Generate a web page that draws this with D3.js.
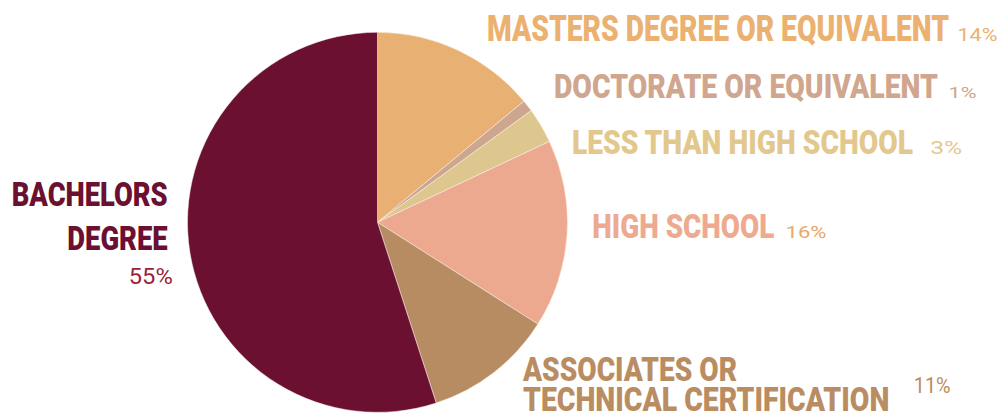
<!DOCTYPE html>
<html>
<head>
<meta charset="utf-8">
<script src="https://cdn.jsdelivr.net/npm/d3@7"></script>
<style>
  html, body { margin: 0; padding: 0; background: #ffffff; }
  svg { display: block; }
</style>
</head>
<body>
<svg id="chart" width="1004" height="417"></svg>
<script>
// ---- data ----
const categories = ["Masters degree or equivalent", "Doctorate or equivalent", "Less than high school", "High school", "Associates or technical certification", "Bachelors degree"];
const values = [14, 1, 3, 16, 11, 55];
const labelLines = [
  ["MASTERS DEGREE OR EQUIVALENT"],
  ["DOCTORATE OR EQUIVALENT"],
  ["LESS THAN HIGH SCHOOL"],
  ["HIGH SCHOOL"],
  ["ASSOCIATES OR", "TECHNICAL CERTIFICATION"],
  ["BACHELORS", "DEGREE"]
];
const percentLabels = values.map(v => v + "%");

// ---- styles / layout ----
const sliceColors = ["#E8B072", "#CDA690", "#DEC68F", "#EDA98F", "#B88C63", "#6B1030"];
const labelColors = ["#EBB171", "#D0A68E", "#E2C88D", "#EEAA90", "#BA8C62", "#6B1030"];
const pctColors   = ["#EBB171", "#D0A68E", "#E2C88D", "#EBA76A", "#BA8C62", "#9B2335"];

// label layout: lines [x, baseline, inkWidth], font size; percent [x, baseline, width, size]
const layout = [
  { size: 36.5, lines: [[488, 41, 460]], pct: [958, 41, 39, 18.3] },
  { size: 33.5, lines: [[555, 97.7, 382]], pct: [949, 97.7, 27, 15.5] },
  { size: 33.8, lines: [[573, 154.3, 339]], pct: [930.7, 154.2, 31, 18.3] },
  { size: 33.8, lines: [[593.3, 238.3, 180]], pct: [786, 238.3, 40, 16.3] },
  { size: 33.8, lines: [[524, 380.7, 212], [524, 410.7, 364.3]], pct: [914.3, 393.3, 35.7, 21.5] },
  { size: 32.5, lines: [[12.7, 205.7, 154], [68.3, 250, 98.4]], pct: [129.3, 284.3, 43, 21.5] }
];

const cx = 377.5, cy = 222.3, radius = 190;

const svg = d3.select("#chart");
const g = svg.append("g").attr("transform", `translate(${cx},${cy})`);

const pie = d3.pie().sort(null).value(d => d).startAngle(0).endAngle(2 * Math.PI);
const arc = d3.arc().innerRadius(0).outerRadius(radius);

g.selectAll("path.slice")
  .data(pie(values))
  .join("path")
  .attr("class", "slice")
  .attr("d", arc)
  .attr("fill", (d, i) => sliceColors[i])
  .attr("stroke", "#fbf3ea")
  .attr("stroke-width", 0.5);

const labels = svg.append("g");
layout.forEach((L, i) => {
  L.lines.forEach((ln, j) => {
    labels.append("text")
      .attr("x", ln[0] - 1)
      .attr("y", ln[1])
      .attr("font-family", "Roboto, 'Liberation Sans', sans-serif")
      .attr("font-weight", 900)
      .attr("font-size", L.size)
      .attr("fill", labelColors[i])
      .attr("textLength", ln[2] + 2)
      .attr("lengthAdjust", "spacingAndGlyphs")
      .text(labelLines[i][j]);
  });
  const p = L.pct;
  labels.append("text")
    .attr("x", p[0] - 0.5)
    .attr("y", p[1])
    .attr("font-family", "Roboto, 'Liberation Sans', sans-serif")
    .attr("font-weight", 400)
    .attr("font-size", p[3])
    .attr("fill", pctColors[i])
    .attr("textLength", p[2] + 1)
    .attr("lengthAdjust", "spacingAndGlyphs")
    .text(percentLabels[i]);
});
</script>
</body>
</html>
